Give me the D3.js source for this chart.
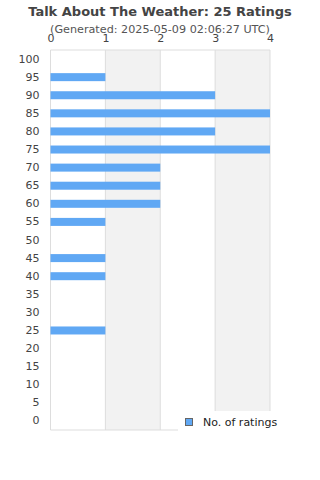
<!DOCTYPE html>
<html><head><meta charset="utf-8">
<script src="https://cdn.jsdelivr.net/npm/d3@7"></script>
<style>body{margin:0;background:#fff;}svg{display:block;font-family:"DejaVu Sans",sans-serif;}</style>
</head><body>
<svg id="c" width="320" height="480"></svg>
<script>
const categories = ["100","95","90","85","80","75","70","65","60","55","50","45","40","35","30","25","20","15","10","5","0"];
const ratings = [0,1,3,4,3,4,2,2,2,1,0,1,1,0,0,1,0,0,0,0,0];
const xTicks = [0,1,2,3,4];
const title = "Talk About The Weather: 25 Ratings";
const subtitle = "(Generated: 2025-05-09 02:06:27 UTC)";
const seriesName = "No. of ratings";

const svg = d3.select("#c");
const L = 50.5, R = 270, T = 50, B = 430;
const x = d3.scaleLinear().domain([0,4]).range([L,R]);
const y = d3.scaleBand().domain(categories).range([T,B]);

// background bands
[[1,2],[3,4]].forEach(([a,b])=>{
  svg.append("rect").attr("x",x(a)).attr("y",T).attr("width",x(b)-x(a)).attr("height",B-T).attr("fill","#f2f2f2");
});
// gridlines
xTicks.forEach(t=>{
  svg.append("line").attr("x1",x(t)).attr("x2",x(t)).attr("y1",T).attr("y2",B).attr("stroke","#dddddd").attr("stroke-width",1);
});
svg.append("line").attr("x1",L).attr("x2",R).attr("y1",T).attr("y2",T).attr("stroke","#dddddd");
svg.append("line").attr("x1",L).attr("x2",R).attr("y1",B).attr("y2",B).attr("stroke","#dddddd");

// bars
const bh = 8;
svg.selectAll("rect.bar").data(categories.map((c,i)=>({c,v:ratings[i]})).filter(d=>d.v>0))
  .enter().append("rect").attr("class","bar")
  .attr("x",x(0)).attr("y",d=>y(d.c)+y.bandwidth()/2-bh/2)
  .attr("width",d=>x(d.v)-x(0)).attr("height",bh).attr("fill","#60a8f4");

// x axis labels at top
const xa = svg.append("g").attr("transform",`translate(0,${T})`)
  .call(d3.axisTop(x).tickValues(xTicks).tickFormat(d3.format("d")).tickSize(0).tickPadding(8));
xa.select(".domain").remove();
xa.selectAll("text").attr("fill","#444").attr("font-size","11px").attr("font-family","DejaVu Sans");

// y axis labels
const ya = svg.append("g").attr("transform",`translate(${L},0)`)
  .call(d3.axisLeft(y).tickSize(0).tickPadding(11));
ya.select(".domain").remove();
ya.selectAll("text").attr("fill","#444").attr("font-size","11px").attr("font-family","DejaVu Sans");

// titles
svg.append("text").attr("x",160).attr("y",16).attr("text-anchor","middle")
  .attr("font-size","13px").attr("font-weight","bold").attr("fill","#444").text(title);
svg.append("text").attr("x",160).attr("y",33).attr("text-anchor","middle")
  .attr("font-size","11.2px").attr("fill","#555").text(subtitle);

// legend
svg.append("rect").attr("x",178).attr("y",411).attr("width",142).attr("height",30).attr("fill","#fff");
svg.append("rect").attr("x",185.5).attr("y",418.5).attr("width",7).attr("height",7).attr("fill","#60a8f4").attr("stroke","#666").attr("stroke-width",1);
svg.append("text").attr("x",203).attr("y",426).attr("font-size","11px").attr("fill","#222").text(seriesName);
</script>
</body></html>
